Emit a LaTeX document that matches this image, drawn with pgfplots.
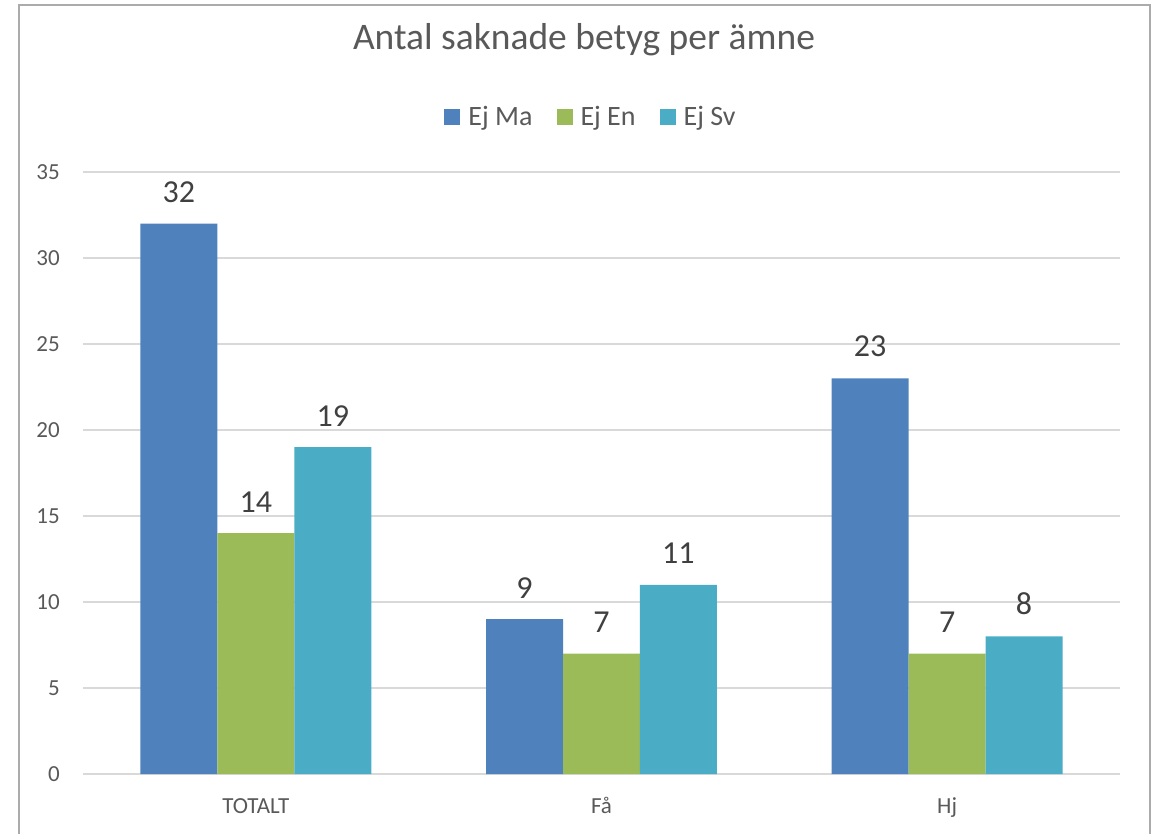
\documentclass[border=0pt]{standalone}
\usepackage{pgfplots}
\pgfplotsset{compat=1.18}
\usepackage{fontspec}
\setmainfont{Carlito}
\definecolor{cMa}{HTML}{4F81BD}
\definecolor{cEn}{HTML}{9BBB59}
\definecolor{cSv}{HTML}{4BACC6}
\definecolor{txt}{HTML}{595959}
\definecolor{lbl}{HTML}{404040}
\definecolor{gridc}{HTML}{D9D9D9}
\definecolor{framec}{HTML}{ABABAB}
\begin{document}
\begin{tikzpicture}[x=1pt,y=1pt]
\useasboundingbox (0,0) rectangle (1155,833);
\draw[framec, line width=2pt] (19,-5) -- (19,828) -- (1150,828) -- (1150,-5);
\begin{axis}[
  at={(83pt,59pt)}, anchor=south west,
  scale only axis, width=1037pt, height=602pt,
  xmin=-0.5, xmax=2.5, ymin=0, ymax=35,
  xtick={0,1,2}, xticklabels={TOTALT, Få, Hj},
  ytick={0,5,...,35},
  ymajorgrids, xmajorgrids=false, grid style={draw=gridc, line width=1.4pt},
  axis x line*=bottom, axis y line*=left,
  y axis line style={draw=none},
  x axis line style={draw=gridc, line width=1.6pt, -},
  major tick length=0pt,
  /pgf/number format/assume math mode=true,
  ticklabel style={font=\fontsize{23}{23}\selectfont, color=txt, inner sep=0pt},
  yticklabel style={xshift=-23pt},
  xticklabel style={yshift=-23pt, text height=16pt, text depth=5pt},
  ybar, bar width=0.2226,
  nodes near coords,
  every node near coord/.append style={font=\fontsize{32}{32}\selectfont, color=lbl, inner sep=0pt, anchor=south, yshift=21pt},
  title={Antal saknade betyg per ämne},
  title style={at={(axis description cs:0.4831,1.1927)}, anchor=base, font=\fontsize{37.5}{37.5}\selectfont, color=txt, inner sep=0pt},
  legend style={at={(axis description cs:0.4889,1.0914)}, anchor=center, draw=none, fill=none,
    font=\fontsize{28}{28}\selectfont, text=txt, legend columns=-1,
    nodes={inner sep=0pt},
    /tikz/every odd column/.append style={column sep=8pt},
    /tikz/every even column/.append style={column sep=24pt}},
  legend image code/.code={\fill[#1] (0pt,-8pt) rectangle (16pt,8pt);},
  legend cell align=left,
]
\addplot[fill=cMa, draw=none, bar shift=-0.2226] coordinates {(0,32) (1,9) (2,23)};
\addplot[fill=cEn, draw=none, bar shift=0] coordinates {(0,14) (1,7) (2,7)};
\addplot[fill=cSv, draw=none, bar shift=0.2226] coordinates {(0,19) (1,11) (2,8)};
\legend{Ej Ma, Ej En, Ej Sv}
\end{axis}
\end{tikzpicture}
\end{document}
